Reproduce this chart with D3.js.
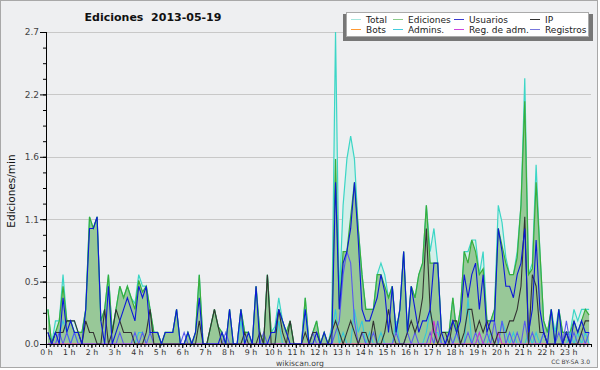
<!DOCTYPE html>
<html><head><meta charset="utf-8">
<script src="https://cdn.jsdelivr.net/npm/d3@7"></script>
<style>body{margin:0;background:#fff}svg{display:block}text{font-family:"DejaVu Sans",sans-serif}</style>
</head><body><svg id="c" width="600" height="370"></svg>
<script>
const title = "Ediciones  2013-05-19";
const yTitle = "Ediciones/min";
const hourLabels = ["0 h","1 h","2 h","3 h","4 h","5 h","6 h","7 h","8 h","9 h","10 h","11 h","12 h","13 h","14 h","15 h","16 h","17 h","18 h","19 h","20 h","21 h","22 h","23 h"];
const yTickValues = [0, 0.54, 1.08, 1.62, 2.16, 2.7];
const yTickLabels = ["0.0","0.5","1.1","1.6","2.2","2.7"];
const seriesNames = ["Total","Ediciones","Usuarios","IP","Bots","Admins.","Reg. de adm.","Registros"];
const binMinutes = 10;

// values per 10-minute slot, 6 per hour
const total = [
 .3,0,.2,.2,.6,.2, .2,.2,.1,.1,.3,1.1, 1.0,1.1,.2,.3,.6,.1, .3,.5,.4,.5,.4,.35,
 .6,.5,.5,.3,.1,.1, 0,.1,.1,.1,.3,0, 0,.1,0,.1,.6,0, 0,.15,.3,.15,.1,0,
 .3,0,0,.3,.1,.1, 0,.5,.1,0,.6,.1, .15,.4,.2,.1,.2,0, 0,0,.4,0,.1,.2,
 0,.1,0,.15,2.7,.4, 1.2,1.6,1.8,1.6,1.0,.6, .3,.3,.3,.6,.7,.6, .4,.5,.1,.3,.8,.1,
 .5,.4,.6,.7,1.2,.8, 1.0,.7,.1,.1,.1,.4, .1,.3,.8,.8,.9,.9, .6,.8,.2,.2,.3,1.2,
 1.05,.75,.6,.6,.8,1.2, 2.3,.6,.7,1.55,.8,.2, .1,.3,.1,.3,.1,.1, .1,.3,.2,.3,.3,.3];
const edits = [
 .3,0,.1,.2,.5,.2, .2,.1,.1,.1,.3,1.1, 1.0,1.1,.2,.3,.6,.1, .3,.5,.4,.5,.4,.3,
 .55,.45,.5,.3,.1,.1, 0,.1,.1,.1,.3,0, 0,.1,0,.1,.6,0, 0,.15,.3,.15,.1,0,
 .3,0,0,.3,.1,.1, 0,.5,.1,0,.6,.1, .1,.3,.2,.1,.2,0, 0,0,.4,0,.1,.2,
 0,.1,0,.1,1.6,.3, .8,.8,1.1,1.4,1.0,.6, .3,.3,.3,.6,.6,.5, .4,.5,.1,.3,.8,.1,
 .5,.4,.6,.7,1.2,.7, .7,.7,.1,.1,.1,.4, .1,.3,.8,.7,.9,.8, .6,.65,.2,.2,.3,1.0,
 .85,.7,.6,.6,.75,1.2, 2.1,.6,.65,1.4,.8,.2, .1,.3,0,.3,.1,.1, .1,.2,.1,.2,.3,.25];
const users = [
 .1,0,.1,0,.4,.1, .2,.1,.1,0,.3,1.0, 1.0,1.1,.2,0,.5,0, .1,.2,.3,.4,.3,.2,
 .5,.4,.5,.1,.1,.1, 0,.1,.1,.1,.3,0, 0,.1,0,.1,.4,0, 0,0,0,0,.1,0,
 .3,0,0,.3,0,.1, 0,.5,0,0,0,.1, .1,.3,.2,.1,0,0, 0,0,.3,0,0,.1,
 0,.1,0,0,1.4,.3, .7,.8,1.0,1.4,.9,.3, .2,.2,.3,.4,.6,.45, .1,.5,.1,.3,.8,.1,
 .5,.3,.1,.2,.2,.3, .7,.7,.1,0,.1,.2, .1,.2,.6,.4,.6,.7, .3,.6,.1,.2,.2,1.0,
 .8,.5,.5,.4,.6,.7, 1.0,.1,.3,.9,.3,.1, 0,.3,0,.3,0,.1, 0,.2,.1,.2,.1,.1];
const ip = [
 .1,0,.1,.1,.1,.2, .2,.2,.1,0,.2,.1, .1,0,0,.3,0,.1, .3,.2,.1,.1,.1,0,
 0,0,.1,.3,0,0, 0,0,0,0,0,0, 0,0,0,0,.2,0, 0,.15,.3,.15,0,0,
 0,0,0,0,.1,0, 0,0,.1,0,.6,0, 0,.3,.1,0,.2,0, 0,0,.1,0,.1,.1,
 0,0,0,.1,.2,.1, 0,.1,.2,.1,0,.1, .1,0,.2,0,0,.1, .3,.1,0,0,0,.1,
 .2,.1,.2,.4,1.0,.3, .1,0,.1,.1,0,.2, .2,0,.1,.3,.3,.1, .2,.1,.2,.1,0,.1,
 .1,.1,.2,.2,.3,.5, 1.1,0,.6,.5,.1,.1, 0,0,0,0,0,.1, 0,0,0,.1,.2,.2];
const bots = [
 0,0,0,0,0,0, 0,0,0,0,0,0, 0,0,0,0,0,0, 0,0,0,0,0,0,
 0,0,0,0,0,0, 0,0,0,0,0,0, 0,0,0,0,0,0, 0,0,0,0,0,0,
 0,0,0,0,0,0, 0,0,0,0,0,0, 0,0,0,0,0,0, 0,0,0,0,0,0,
 0,0,0,0,0,0, 0,0,0,0,0,0, 0,0,0,0,0,0, 0,0,0,0,0,0,
 0,0,0,0,0,0, 0,0,0,0,0,0, 0,0,0,0,0,0, 0,0,0,0,0,0,
 0,0,0,0,0,0, 0,0,0,0,0,0, 0,0,0,0,0,0, 0,0,0,0,0,0];
const admins = [
 0,0,.1,.1,.2,.1, 0,.1,0,0,0,0, 0,0,0,0,0,0, 0,0,0,0,0,0,
 .1,.1,0,0,0,0, 0,0,0,0,0,0, 0,0,0,0,0,0, 0,0,0,0,0,0,
 0,0,0,.2,0,0, 0,0,0,0,0,0, 0,.2,0,0,0,0, 0,0,.3,0,0,0,
 0,0,0,.1,.3,0, .1,0,0,.3,.1,.2, 0,.1,0,0,.1,0, 0,0,.2,0,0,0,
 0,0,0,0,.1,.3, .1,.1,0,0,0,0, .1,0,0,.4,0,0, .1,0,0,.1,0,0,
 .2,.1,0,.1,0,0, 0,.1,0,.1,0,.1, 0,0,0,0,0,0, .1,0,.1,0,.1,0];
const regAdmins = [
 0,0,0,0,0,0, 0,0,0,0,0,0, 0,0,0,0,0,0, 0,0,0,0,0,0,
 0,0,0,0,0,0, 0,0,0,0,0,0, 0,0,0,0,0,0, 0,0,0,0,0,0,
 0,0,0,0,0,0, 0,0,0,0,0,0, 0,0,0,0,0,0, 0,0,0,0,0,0,
 0,0,0,0,0,0, 0,0,0,0,0,0, 0,0,0,0,0,0, 0,0,0,0,0,0,
 0,0,0,0,0,0, .2,0,0,0,0,0, 0,0,0,0,0,0, .1,0,0,0,0,.1,
 0,0,0,0,0,0, 0,0,0,0,0,0, 0,0,0,0,0,0, 0,0,0,0,0,0];
const registros = [
 0,0,0,.1,0,.1, 0,.1,0,0,0,0, 0,0,0,0,0,0, 0,.1,0,0,0,.1,
 0,.1,0,.1,0,0, 0,0,0,0,0,0, .1,0,0,0,0,0, 0,0,0,0,0,.1,
 0,0,0,0,0,0, 0,0,0,.1,0,0, 0,0,0,0,0,0, 0,0,0,0,.1,0,
 0,0,0,0,.1,.2, .6,.8,.7,.2,0,.1, 0,0,.1,0,0,0, 0,0,.1,0,0,.1,
 0,.1,0,0,0,.1, 0,.2,0,0,.1,0, .1,0,0,.1,0,.1, 0,0,.1,0,.2,0,
 .2,0,.1,0,.1,0, .2,0,.1,0,0,.1, 0,0,0,.1,0,.2, 0,.1,0,.1,0,.1];

const svg = d3.select("#c");
// frame
svg.append("rect").attr("x",0.5).attr("y",0.5).attr("width",597).attr("height",367)
  .attr("fill","#eeeff1").attr("stroke","#a8a8a8");

const x = d3.scaleLinear().domain([0, 1440]).range([46, 591]);
const y = d3.scaleLinear().domain([0, 2.7]).range([344, 32]);
const px = (d,i) => x(i*binMinutes + binMinutes/2);

// grid
svg.append("g").selectAll("line").data(yTickValues.slice(1)).join("line")
  .attr("x1",46).attr("x2",591).attr("y1",d=>Math.round(y(d))+0.5).attr("y2",d=>Math.round(y(d))+0.5)
  .attr("stroke","#c8c8c8").attr("stroke-width",1);

const area = d3.area().x(px).y0(y(0)).y1(d=>y(d));
const line = d3.line().x(px).y(d=>y(d));

svg.append("path").datum(total).attr("d",area).attr("fill","#d3efea");
svg.append("path").datum(edits).attr("d",area).attr("fill","#98c898");
svg.append("path").datum(total).attr("d",line).attr("fill","none").attr("stroke","#3cd6c6").attr("stroke-width",1.2);
svg.append("path").datum(edits).attr("d",line).attr("fill","none").attr("stroke","#3aad3a").attr("stroke-width",1.2);

const lineSeries = [
  [bots,"#ff9922"],[admins,"#35c8da"],[registros,"#5a5aee"],[regAdmins,"#cc33cc"],
  [ip,"#333333"],[users,"#0c18d8"]
];
lineSeries.forEach(([data,col])=>{
  svg.append("path").datum(data).attr("d",line).attr("fill","none").attr("stroke",col).attr("stroke-width",1.1);
});

// axes
const yMinor = d3.range(0, 2.7001, 0.135);
svg.append("g").attr("transform","translate(46,0)")
  .call(d3.axisLeft(y).tickValues(yMinor).tickSize(3).tickFormat(""))
  .call(g=>g.select(".domain").remove())
  .call(g=>g.selectAll("line").attr("stroke","#000"));
const yAx = svg.append("g").attr("transform","translate(46,0)")
  .call(d3.axisLeft(y).tickValues(yTickValues).tickSize(6).tickPadding(1)
    .tickFormat((d,i)=>yTickLabels[i]));
yAx.select(".domain").attr("d","M0.5,32V344.5").attr("stroke","#000");
yAx.selectAll("text").attr("font-size",9).attr("font-family","DejaVu Sans").attr("fill","#444");

const xMinor = d3.range(0, 1441, binMinutes);
svg.append("g").attr("transform","translate(0,344)")
  .call(d3.axisBottom(x).tickValues(xMinor).tickSize(3).tickFormat(""))
  .call(g=>g.select(".domain").remove())
  .call(g=>g.selectAll("line").attr("stroke","#000"));
const xAx = svg.append("g").attr("transform","translate(0,344)")
  .call(d3.axisBottom(x).tickValues(hourLabels.map((d,i)=>i*60)).tickSize(4).tickPadding(1)
    .tickFormat((d,i)=>hourLabels[i]));
xAx.select(".domain").attr("d","M46,0.5H591").attr("stroke","#000");
xAx.selectAll("text").attr("font-size",7.8).attr("font-family","DejaVu Sans").attr("fill","#333");

// titles
svg.append("text").attr("x",153).attr("y",21).attr("text-anchor","middle")
  .attr("font-size",11).attr("font-weight","bold").attr("fill","#111").attr("xml:space","preserve").text(title);
svg.append("text").attr("transform","translate(15,191) rotate(-90)").attr("text-anchor","middle")
  .attr("font-size",10.5).attr("fill","#111").text(yTitle);
svg.append("text").attr("x",300).attr("y",365.5).attr("text-anchor","middle")
  .attr("font-size",7.7).attr("fill","#444").text("wikiscan.org");
svg.append("text").attr("x",590).attr("y",364).attr("text-anchor","end")
  .attr("font-size",6).attr("fill","#444").text("CC BY-SA 3.0");

// legend
const lg = svg.append("g");
lg.append("rect").attr("x",343).attr("y",14).attr("width",250).attr("height",27).attr("fill","#777");
lg.append("rect").attr("x",346.5).attr("y",12.5).attr("width",242).attr("height",24).attr("fill","#fff").attr("stroke","#aaa");
const legendColors = ["#a6e6de","#8ccc8c","#3b3bd0","#333333","#ff9933","#44ccdd","#cc44dd","#7777dd"];
const colX = [366, 408, 469, 545];
seriesNames.forEach((name,i)=>{
  const cx = colX[i%4], cy = i<4 ? 19.5 : 29.5;
  lg.append("line").attr("x1",cx-15).attr("x2",cx-5).attr("y1",cy).attr("y2",cy)
    .attr("stroke",legendColors[i]).attr("stroke-width",1);
  lg.append("text").attr("x",cx).attr("y",cy+3.2).attr("font-size",9).attr("fill","#222").text(name);
});
</script></body></html>
